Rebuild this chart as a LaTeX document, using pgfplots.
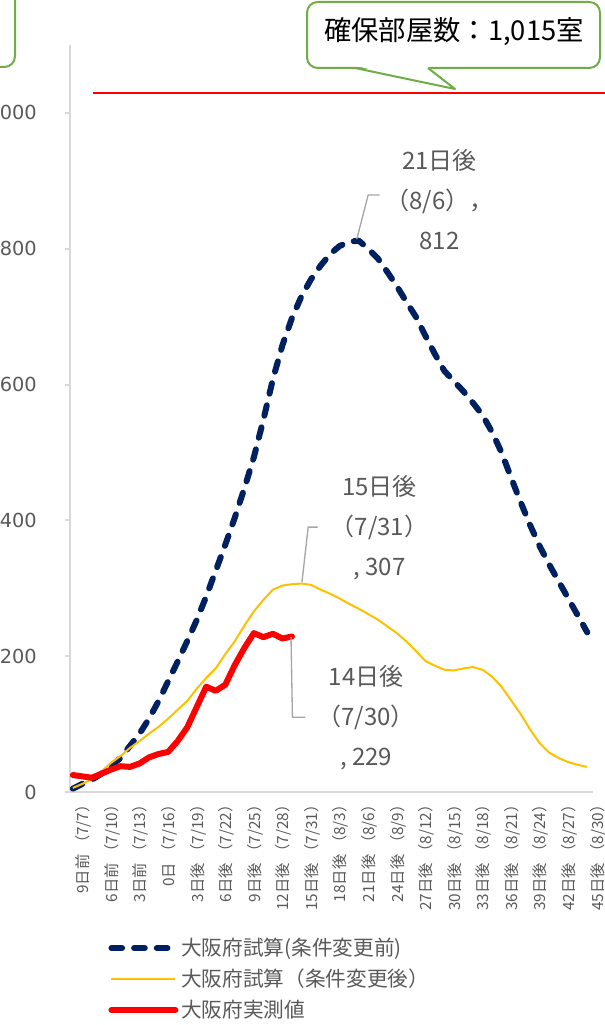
\documentclass[border=0pt]{standalone}
\usepackage{fontspec}
\setmainfont{Noto Sans CJK JP}
\newfontfamily\dv{DejaVu Sans}
\usepackage{pgfplots}
\pgfplotsset{compat=1.18}
\definecolor{navy}{HTML}{002060}
\definecolor{gold}{HTML}{FFC000}
\definecolor{purered}{HTML}{FF0000}
\definecolor{axisgray}{HTML}{D9D9D9}
\definecolor{textgray}{HTML}{595959}
\definecolor{leadgray}{HTML}{A6A6A6}
\definecolor{boxgreen}{HTML}{70AD47}
\begin{document}
\begin{tikzpicture}
\begin{axis}[
    at={(52.5pt,174.75pt)}, anchor=south west,
    scale only axis, width=392.25pt, height=560.25pt,
    xmin=-9.3, xmax=45.6, ymin=0, ymax=1100,
    axis x line=bottom, axis y line=left,
    axis line style={draw=axisgray, line width=1.5pt, -},
    xtick={-9,-6,...,45},
    xticklabels={9日前\ （7/7）, 6日前\ （7/10）, 3日前\ （7/13）, 0日\ （7/16）,
        3日後\ （7/19）, 6日後\ （7/22）, 9日後\ （7/25）, 12日後\ （7/28）,
        15日後\ （7/31）, 18日後\ （8/3）, 21日後\ （8/6）, 24日後\ （8/9）,
        27日後\ （8/12）, 30日後\ （8/15）, 33日後\ （8/18）, 36日後\ （8/21）,
        39日後\ （8/24）, 42日後\ （8/27）, 45日後\ （8/30）},
    xtick style={draw=none},
    xticklabel style={rotate=90, anchor=east, inner sep=0pt, yshift=-8pt,
        font=\fontsize{11.5}{12}\selectfont, text=textgray},
    ytick={0,200,...,1000},
    yticklabels={0,200,400,600,800,1000},
    yticklabel style={anchor=east, inner sep=0pt, xshift=-21pt,
        font=\dv\fontsize{14.5}{16}\selectfont, text=textgray},
    tick align=outside, major tick length=3.75pt,
    ytick style={draw=axisgray, line width=1.5pt},
    clip=false,
    legend image code/.code={\draw[#1] (0pt,0pt) -- (48pt,0pt);},
    legend style={at={(axis description cs:0.073,-0.192)}, anchor=north west,
        draw=none, fill=none, inner sep=0pt, row sep=4.5pt,
        font=\fontsize{15.5}{18}\selectfont, text=textgray},
    legend cell align=left,
]
% 大阪府試算(条件変更前)
\addplot[navy, line width=4.5pt, dash pattern=on 8pt off 9pt, line cap=round, line join=round] table {
d v
-9 5
-8 12
-7 18
-6 27
-5 38
-4 50
-3 68
-2 86
-1 108
0 134
1 163
2 192
3 222
4 253
5 288
6 326
7 364
8 404
9 447
10 493
11 548
12 608
13 658
14 698
15 730
16 755
17 775
18 792
19 804
20 810
21 812
22 800
23 786
24 766
25 745
26 722
27 700
28 672
29 645
30 620
31 605
32 590
33 573
34 555
35 530
36 500
37 463
38 427
39 393
40 362
41 335
42 310
43 285
44 260
45 235
};
\addlegendentry{大阪府試算(条件変更前)}
% 大阪府試算（条件変更後）
\addplot[gold, line width=1.5pt, line join=round] table {
d v
-9 6
-8 12
-7 19
-6 30
-5 43
-4 53
-3 65
-2 75
-1 86
0 96
1 108
2 121
3 134
4 152
5 168
6 182
7 203
8 222
9 245
10 266
11 283
12 298
13 304
14 306
15 307
16 305
17 298
18 292
19 285
20 277
21 270
22 262
23 254
24 244
25 234
26 222
27 208
28 193
29 186
30 180
31 179
32 182
33 184
34 180
35 170
36 155
37 135
38 115
39 92
40 72
41 58
42 50
43 44
44 40
45 37
};
\addlegendentry{大阪府試算（条件変更後）}
% 大阪府実測値
\addplot[purered, line width=4.5pt, line cap=round, line join=round] table {
d v
-9 25
-8 23
-7 21
-6 27
-5 33
-4 38
-3 37
-2 42
-1 51
0 56
1 59
2 75
3 95
4 125
5 155
6 149
7 158
8 187
9 212
10 234
11 228
12 233
13 226
14 229
};
\addlegendentry{大阪府実測値}

% data labels
\draw[leadgray, line width=1pt] (axis cs:20.8,814) -- (axis cs:22.0,879) -- (axis cs:23.2,879);
\node[align=center, text=textgray, font=\fontsize{18}{30}\selectfont]
    at (axis cs:29.5,873) {21日後\\（8/6），\\812};
\draw[leadgray, line width=1pt] (axis cs:15.05,309) -- (axis cs:15.7,390) -- (axis cs:16.7,390);
\node[align=center, text=textgray, font=\fontsize{18}{30}\selectfont]
    at (axis cs:23.2,389) {15日後\\（7/31）\\, 307};
\draw[leadgray, line width=1pt] (axis cs:13.9,228) -- (axis cs:14.05,110) -- (axis cs:15.4,110);
\node[align=center, text=textgray, font=\fontsize{18}{30}\selectfont]
    at (axis cs:21.8,110) {14日後\\（7/30）\\, 229};
\end{axis}

\begin{scope}[x=0.75pt, y=-0.75pt, yshift=768.75pt]
  % 確保部屋数の線
  \draw[draw=purered, line width=1pt] (93,93) -- (605,93);
  % left box (cut off)
  \draw[boxgreen, line width=1.5pt, fill=white, rounded corners=8pt] (-120,-20) rectangle (15,67);
  % callout
  \draw[boxgreen, line width=1.5pt, fill=white, rounded corners=8pt] (307,2) rectangle (600,68);
  \fill[white] (356,66) -- (427,66) -- (455,89) -- cycle;
  \draw[boxgreen, line width=1.5pt, line join=round] (355,68) -- (455,89) -- (428,68);
  \node[font=\fontsize{20.5}{24}\selectfont, text=black] at (454,32) {確保部屋数：1,015室};
\end{scope}

\pgfresetboundingbox
\path[use as bounding box] (0,0) rectangle (453.75pt,768.75pt);
\end{tikzpicture}
\end{document}
